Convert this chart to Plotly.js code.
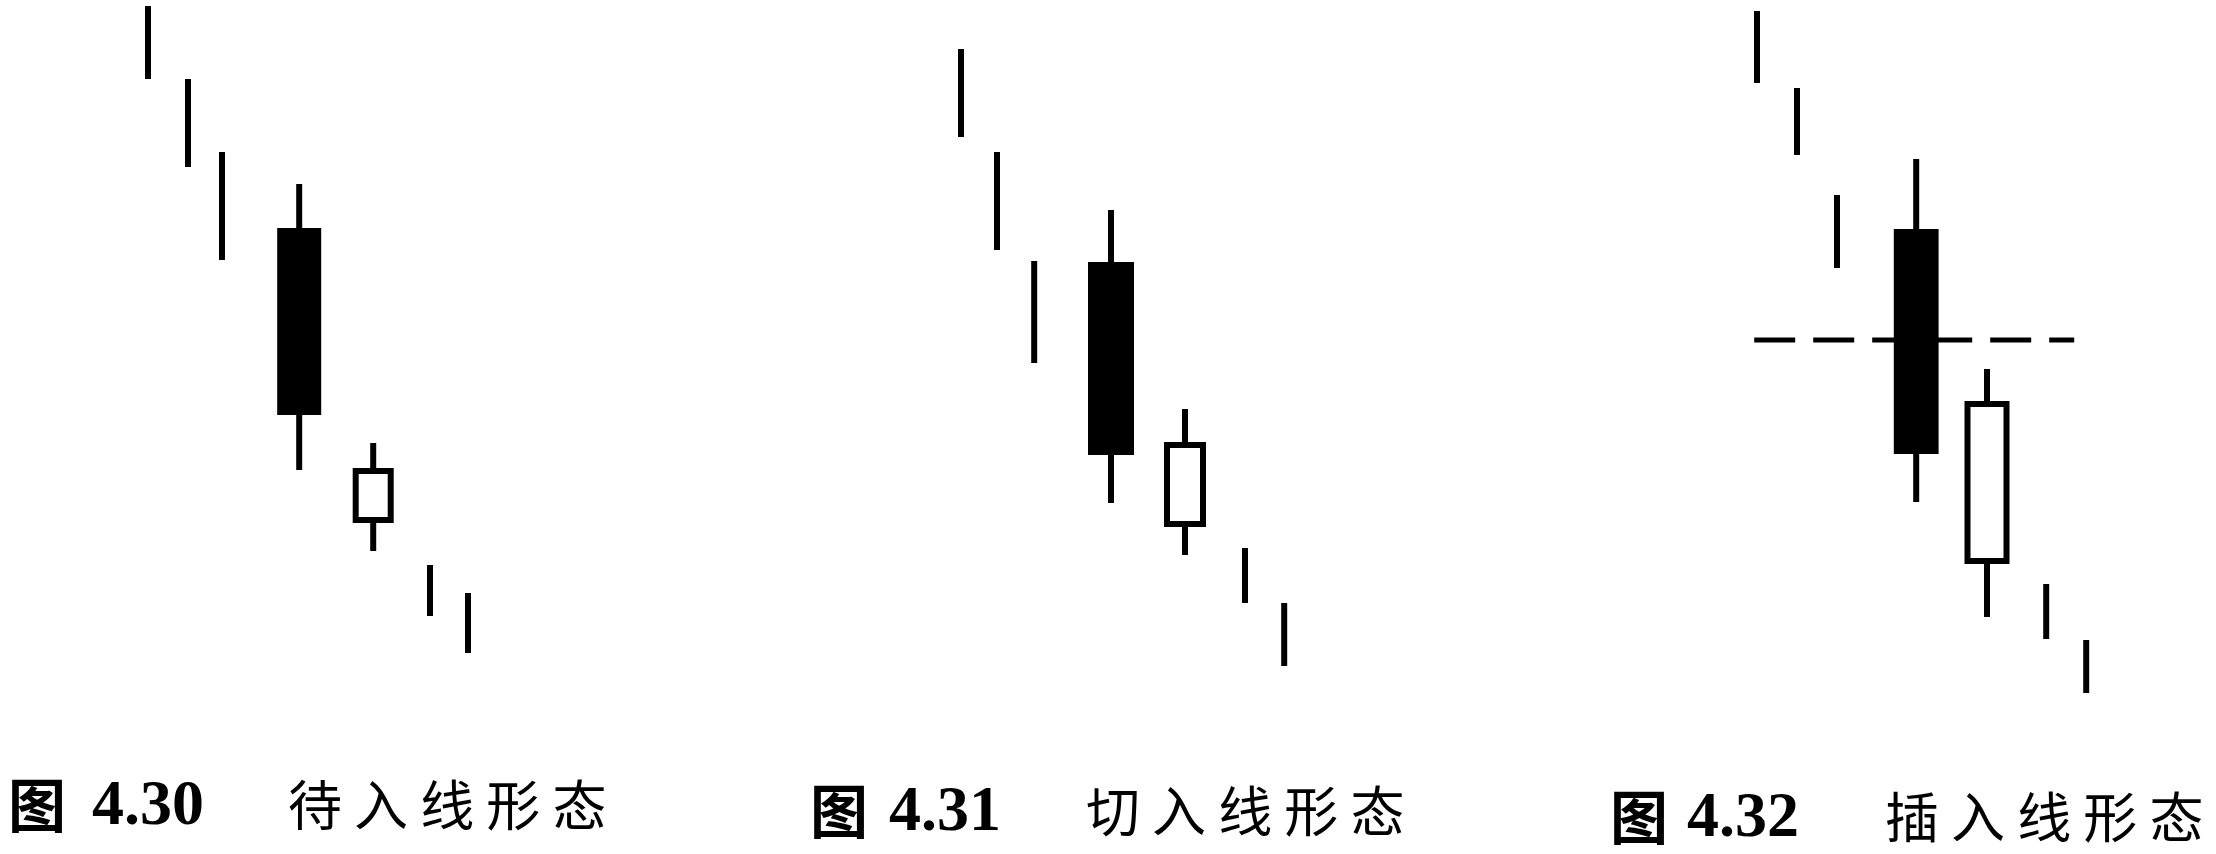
<!DOCTYPE html>
<html>
<head>
<meta charset="utf-8">
<script src="https://cdn.plot.ly/plotly-3.0.1.min.js"></script>
<style>html,body{margin:0;padding:0;background:#fff;}#chart{width:2216px;height:854px;}</style>
</head>
<body>
<div id="chart"></div>
<script>
// ---- data ----
const figNumbers = ['4.30', '4.31', '4.32'];
const figTitles = ['待入线形态', '切入线形态', '插入线形态'];

// panel 1: 待入线
const pos1   = [1.0, 2.0, 2.85, 4.78, 6.63, 8.05, 9.0];
const high1  = [79.4, 72.1, 64.8, 61.6, 35.7, 23.5, 20.7];
const low1   = [72.1, 63.3, 54.0, 33.0, 24.9, 18.4, 14.7];
const open1  = [null, null, null, 57.2, 28.0, null, null];
const close1 = [null, null, null, 38.5, 32.9, null, null];

// panel 2: 切入线
const pos2   = [1.0, 1.9, 2.83, 4.75, 6.6, 8.1, 9.08];
const high2  = [75.1, 64.8, 53.9, 59.0, 39.1, 25.2, 19.7];
const low2   = [66.3, 55.0, 43.7, 29.7, 24.5, 19.7, 13.4];
const open2  = [null, null, null, 53.8, 27.6, null, null];
const close2 = [null, null, null, 34.5, 35.5, null, null];

// panel 3: 插入线
const pos3   = [1.0, 2.0, 3.0, 4.98, 6.75, 8.23, 9.23];
const high3  = [78.9, 71.2, 60.5, 64.1, 43.1, 21.6, 16.0];
const low3   = [71.7, 64.5, 53.2, 29.8, 18.3, 16.1, 10.7];
const open3  = [null, null, null, 57.1, 23.9, null, null];
const close3 = [null, null, null, 34.6, 39.6, null, null];
const level3 = 46.0;          // dashed reference level
const levelSpan3 = [0.93, 8.93];

// ---- styling ----
const W = 2216, H = 854;
const panelStarts = [108, 921, 1717];   // px where x=0 of each panel sits
const unitPx = 40;                       // px per x unit
const blackWidth = [1.1, 1.15, 1.12];
const hollowWidth = [0.875, 0.9, 0.975];

const panels = [
  {pos: pos1, high: high1, low: low1, open: open1, close: close1},
  {pos: pos2, high: high2, low: low2, open: open2, close: close2},
  {pos: pos3, high: high3, low: low3, open: open3, close: close3}
];

const traces = [];
panels.forEach((p, i) => {
  const xa = i === 0 ? 'x' : 'x' + (i + 1);
  const wx = [], wy = [];
  const bx = [], bBase = [], bLen = [], bColor = [], bLineW = [], bWidth = [];
  p.pos.forEach((x, k) => {
    const o = p.open[k], c = p.close[k];
    if (o === null || c === null) {
      wx.push(x, x, null); wy.push(p.high[k], p.low[k], null);
    } else {
      const top = Math.max(o, c), bot = Math.min(o, c);
      wx.push(x, x, null, x, x, null);
      wy.push(p.high[k], top, null, bot, p.low[k], null);
      const up = c > o;
      bx.push(x); bBase.push(bot); bLen.push(top - bot);
      bColor.push(up ? '#ffffff' : '#000000');
      bLineW.push(up ? 6 : 0);
      bWidth.push(up ? hollowWidth[i] : blackWidth[i]);
    }
  });
  traces.push({
    type: 'bar', x: bx, y: bLen, base: bBase, width: bWidth,
    xaxis: xa, yaxis: 'y',
    marker: {color: bColor, line: {color: '#000000', width: bLineW}},
    hoverinfo: 'skip', showlegend: false
  });
  traces.push({
    type: 'scatter', mode: 'lines', x: wx, y: wy, xaxis: xa, yaxis: 'y',
    line: {color: '#000000', width: 6}, hoverinfo: 'skip', showlegend: false
  });
});
traces.push({
  type: 'scatter', mode: 'lines', x: levelSpan3, y: [level3, level3],
  xaxis: 'x3', yaxis: 'y',
  line: {color: '#000000', width: 5, dash: '41px,18px'},
  hoverinfo: 'skip', showlegend: false
});

const hidden = {visible: false, range: [0, 10], fixedrange: true};
function dom(i) { return [panelStarts[i] / W, (panelStarts[i] + 10 * unitPx) / W]; }

// captions
const capLeft = [6, 808, 1608];
const numLeft = [90, 887, 1685];
const titleLeft = [286, 1084, 1883];
const capMid = [802, 808, 814];
const annotations = [];
figNumbers.forEach((n, i) => {
  const yy = 1 - capMid[i] / H;
  annotations.push({
    xref: 'paper', yref: 'paper', x: capLeft[i] / W, y: yy, xanchor: 'left', yanchor: 'middle',
    text: '<b>图</b>', showarrow: false,
    font: {family: 'Noto Sans CJK SC', size: 58, color: '#000'}
  });
  annotations.push({
    xref: 'paper', yref: 'paper', x: numLeft[i] / W, y: yy, xanchor: 'left', yanchor: 'middle',
    text: '<b>' + n + '</b>', showarrow: false,
    font: {family: 'Liberation Serif', size: 64, color: '#000'}
  });
  annotations.push({
    xref: 'paper', yref: 'paper', x: titleLeft[i] / W, y: yy, xanchor: 'left', yanchor: 'middle',
    text: figTitles[i].split('').join(' '), showarrow: false,
    font: {family: 'Noto Sans CJK SC', size: 54, color: '#000'}
  });
});

const layout = {
  width: W, height: H,
  margin: {l: 0, r: 0, t: 0, b: 0},
  paper_bgcolor: '#ffffff', plot_bgcolor: '#ffffff',
  barmode: 'overlay',
  showlegend: false,
  xaxis: Object.assign({}, hidden, {domain: dom(0), anchor: 'y'}),
  xaxis2: Object.assign({}, hidden, {domain: dom(1), anchor: 'y'}),
  xaxis3: Object.assign({}, hidden, {domain: dom(2), anchor: 'y'}),
  yaxis: {visible: false, range: [-5.4, 80], domain: [0, 1], fixedrange: true},
  annotations: annotations
};

Plotly.newPlot('chart', traces, layout, {staticPlot: true, displayModeBar: false});
</script>
</body>
</html>
